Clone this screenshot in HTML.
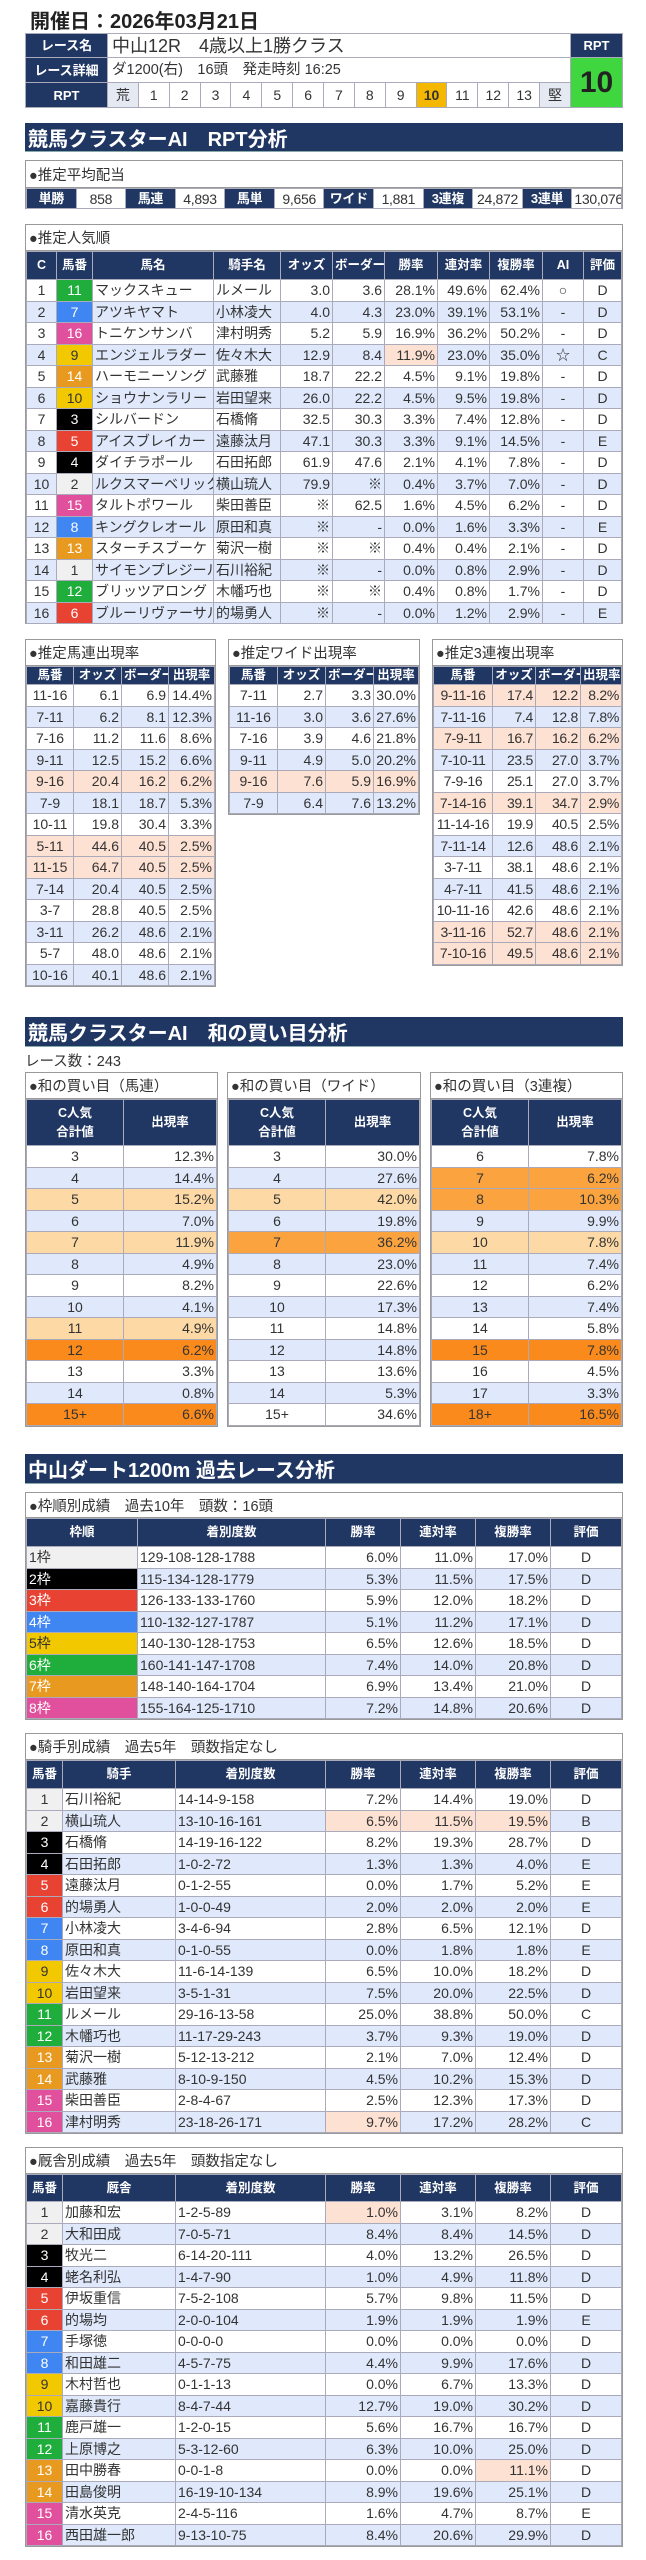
<!DOCTYPE html>
<html><head><meta charset="utf-8">
<style>
*{margin:0;padding:0;box-sizing:border-box}
body{width:646px;height:2560px;background:#fff;position:relative;font-family:"Liberation Sans","Noto Sans CJK JP",sans-serif;font-size:14px;color:#333;overflow:hidden}
.a{position:absolute}
table{border-collapse:collapse;table-layout:fixed;width:100%}
td,th{border:1px solid #aab;white-space:nowrap;overflow:hidden;padding:0 2px;line-height:1}
td{font-size:14px}
th{background:#213763;color:#fff;font-size:12.5px;font-weight:bold;text-align:center}
.nv{background:#213763;color:#fff;font-weight:bold;text-align:center;font-size:13px}
.sec{background:#213763;color:#fff;font-weight:bold;font-size:20px;padding-left:3px;display:flex;align-items:center;border-bottom:1px solid #8aa}
.box{border:1px solid #999;background:#fff}
.lbl{height:26px;display:flex;align-items:center;padding-left:3px;font-size:14.5px;border-bottom:1px solid #999}
.r{text-align:right}.c{text-align:center}.l{text-align:left}
tr.b td{background:#dfe9fb}
td.p,tr td.p{background:#fde1d3}
td.lo,tr td.lo{background:#fdd9a5}
td.o,tr td.o{background:#fba43f}
td.do,tr td.do{background:#fb8a1c}
.f1{background:#f0f0f0!important;color:#333}
.f2{background:#000!important;color:#fff}
.f3{background:#e84233!important;color:#fff}
.f4{background:#3f86f2!important;color:#fff}
.f5{background:#f2c800!important;color:#333}
.f6{background:#1fae3c!important;color:#fff}
.f7{background:#e8991f!important;color:#fff}
.f8{background:#e0509c!important;color:#fff}
.d21 tr td{height:21.5px}
.sm td{letter-spacing:-0.3px}
</style></head><body>

<div class="a" style="left:30px;top:5px;font-size:20px;font-weight:bold;color:#222">開催日：2026年03月21日</div>

<div class="a" style="left:25px;top:33px;width:598px;height:74px">
<table style="height:74px;border:1px solid #999">
<colgroup><col style="width:82px"><col span="15"><col style="width:52px"></colgroup>
<tr style="height:24px"><td class="nv">レース名</td><td colspan="15" style="font-size:18px;padding-left:4px">中山12R　4歳以上1勝クラス</td><td class="nv">RPT</td></tr>
<tr style="height:25px"><td class="nv">レース詳細</td><td colspan="15" style="font-size:14.5px;padding-left:4px">ダ1200(右)　16頭　発走時刻 16:25</td><td rowspan="2" style="background:#3fd63f;color:#222;font-size:30px;font-weight:bold;text-align:center">10</td></tr>
<tr style="height:25px"><td class="nv">RPT</td><td class="c" style="background:#e4e9f2">荒</td><td class="c">1</td><td class="c">2</td><td class="c">3</td><td class="c">4</td><td class="c">5</td><td class="c">6</td><td class="c">7</td><td class="c">8</td><td class="c">9</td><td class="c" style="background:#f5b800;font-weight:bold">10</td><td class="c">11</td><td class="c">12</td><td class="c">13</td><td class="c" style="background:#e4e9f2">堅</td></tr>
</table></div>

<div class="a sec" style="left:25px;top:123px;width:598px;height:29px">競馬クラスターAI　RPT分析</div>

<div class="a box" style="left:25px;top:160px;width:598px;height:49px">
<div class="lbl" style="height:27px">●推定平均配当</div>
<table style="height:21px" class="sm"><tr>
<td class="nv">単勝</td><td class="c">858</td><td class="nv">馬連</td><td class="c">4,893</td><td class="nv">馬単</td><td class="c">9,656</td><td class="nv">ワイド</td><td class="c">1,881</td><td class="nv">3連複</td><td class="c">24,872</td><td class="nv">3連単</td><td class="c">130,076</td></tr></table>
</div>

<div class="a box" style="left:25px;top:224px;width:598px;height:400px">
<div class="lbl">●推定人気順</div>
<table class="d21">
<colgroup><col style="width:30px"><col style="width:36px"><col style="width:121px"><col style="width:67px"><col style="width:52px"><col style="width:52px"><col style="width:53px"><col style="width:52px"><col style="width:53px"><col style="width:41px"><col></colgroup>
<tr style="height:28px"><th>C</th><th>馬番</th><th>馬名</th><th>騎手名</th><th>オッズ</th><th>ボーダー</th><th>勝率</th><th>連対率</th><th>複勝率</th><th>AI</th><th>評価</th></tr>
<tr><td class="c">1</td><td class="c f6">11</td><td>マックスキュー</td><td>ルメール</td><td class="r">3.0</td><td class="r">3.6</td><td class="r">28.1%</td><td class="r">49.6%</td><td class="r">62.4%</td><td class="c">○</td><td class="c">D</td></tr>
<tr class="b"><td class="c">2</td><td class="c f4">7</td><td>アツキヤマト</td><td>小林凌大</td><td class="r">4.0</td><td class="r">4.3</td><td class="r">23.0%</td><td class="r">39.1%</td><td class="r">53.1%</td><td class="c">-</td><td class="c">D</td></tr>
<tr><td class="c">3</td><td class="c f8">16</td><td>トニケンサンバ</td><td>津村明秀</td><td class="r">5.2</td><td class="r">5.9</td><td class="r">16.9%</td><td class="r">36.2%</td><td class="r">50.2%</td><td class="c">-</td><td class="c">D</td></tr>
<tr class="b"><td class="c">4</td><td class="c f5">9</td><td>エンジェルラダー</td><td>佐々木大</td><td class="r">12.9</td><td class="r">8.4</td><td class="r p">11.9%</td><td class="r">23.0%</td><td class="r">35.0%</td><td class="c">☆</td><td class="c">C</td></tr>
<tr><td class="c">5</td><td class="c f7">14</td><td>ハーモニーソング</td><td>武藤雅</td><td class="r">18.7</td><td class="r">22.2</td><td class="r">4.5%</td><td class="r">9.1%</td><td class="r">19.8%</td><td class="c">-</td><td class="c">D</td></tr>
<tr class="b"><td class="c">6</td><td class="c f5">10</td><td>ショウナンラリー</td><td>岩田望来</td><td class="r">26.0</td><td class="r">22.2</td><td class="r">4.5%</td><td class="r">9.5%</td><td class="r">19.8%</td><td class="c">-</td><td class="c">D</td></tr>
<tr><td class="c">7</td><td class="c f2">3</td><td>シルバードン</td><td>石橋脩</td><td class="r">32.5</td><td class="r">30.3</td><td class="r">3.3%</td><td class="r">7.4%</td><td class="r">12.8%</td><td class="c">-</td><td class="c">D</td></tr>
<tr class="b"><td class="c">8</td><td class="c f3">5</td><td>アイスブレイカー</td><td>遠藤汰月</td><td class="r">47.1</td><td class="r">30.3</td><td class="r">3.3%</td><td class="r">9.1%</td><td class="r">14.5%</td><td class="c">-</td><td class="c">E</td></tr>
<tr><td class="c">9</td><td class="c f2">4</td><td>ダイチラポール</td><td>石田拓郎</td><td class="r">61.9</td><td class="r">47.6</td><td class="r">2.1%</td><td class="r">4.1%</td><td class="r">7.8%</td><td class="c">-</td><td class="c">D</td></tr>
<tr class="b"><td class="c">10</td><td class="c f1">2</td><td>ルクスマーベリック</td><td>横山琉人</td><td class="r">79.9</td><td class="r">※</td><td class="r">0.4%</td><td class="r">3.7%</td><td class="r">7.0%</td><td class="c">-</td><td class="c">D</td></tr>
<tr><td class="c">11</td><td class="c f8">15</td><td>タルトポワール</td><td>柴田善臣</td><td class="r">※</td><td class="r">62.5</td><td class="r">1.6%</td><td class="r">4.5%</td><td class="r">6.2%</td><td class="c">-</td><td class="c">D</td></tr>
<tr class="b"><td class="c">12</td><td class="c f4">8</td><td>キングクレオール</td><td>原田和真</td><td class="r">※</td><td class="r">-</td><td class="r">0.0%</td><td class="r">1.6%</td><td class="r">3.3%</td><td class="c">-</td><td class="c">E</td></tr>
<tr><td class="c">13</td><td class="c f7">13</td><td>スターチスブーケ</td><td>菊沢一樹</td><td class="r">※</td><td class="r">※</td><td class="r">0.4%</td><td class="r">0.4%</td><td class="r">2.1%</td><td class="c">-</td><td class="c">D</td></tr>
<tr class="b"><td class="c">14</td><td class="c f1">1</td><td>サイモンプレジール</td><td>石川裕紀</td><td class="r">※</td><td class="r">-</td><td class="r">0.0%</td><td class="r">0.8%</td><td class="r">2.9%</td><td class="c">-</td><td class="c">D</td></tr>
<tr><td class="c">15</td><td class="c f6">12</td><td>ブリッツアロング</td><td>木幡巧也</td><td class="r">※</td><td class="r">※</td><td class="r">0.4%</td><td class="r">0.8%</td><td class="r">1.7%</td><td class="c">-</td><td class="c">D</td></tr>
<tr class="b"><td class="c">16</td><td class="c f3">6</td><td>ブルーリヴァーサル</td><td>的場勇人</td><td class="r">※</td><td class="r">-</td><td class="r">0.0%</td><td class="r">1.2%</td><td class="r">2.9%</td><td class="c">-</td><td class="c">E</td></tr>
</table></div>

<!-- small tables -->
<div class="a box" style="left:25px;top:639px;width:191px">
<div class="lbl">●推定馬連出現率</div>
<table class="d21"><colgroup><col style="width:47px"><col style="width:48px"><col style="width:47px"><col></colgroup>
<tr style="height:18px"><th>馬番</th><th>オッズ</th><th>ボーダー</th><th>出現率</th></tr>
<tr><td class="c">11-16</td><td class="r">6.1</td><td class="r">6.9</td><td class="r">14.4%</td></tr>
<tr class="b"><td class="c">7-11</td><td class="r">6.2</td><td class="r">8.1</td><td class="r">12.3%</td></tr>
<tr><td class="c">7-16</td><td class="r">11.2</td><td class="r">11.6</td><td class="r">8.6%</td></tr>
<tr class="b"><td class="c">9-11</td><td class="r">12.5</td><td class="r">15.2</td><td class="r">6.6%</td></tr>
<tr><td class="c p">9-16</td><td class="r p">20.4</td><td class="r p">16.2</td><td class="r p">6.2%</td></tr>
<tr class="b"><td class="c">7-9</td><td class="r">18.1</td><td class="r">18.7</td><td class="r">5.3%</td></tr>
<tr><td class="c">10-11</td><td class="r">19.8</td><td class="r">30.4</td><td class="r">3.3%</td></tr>
<tr><td class="c p">5-11</td><td class="r p">44.6</td><td class="r p">40.5</td><td class="r p">2.5%</td></tr>
<tr><td class="c p">11-15</td><td class="r p">64.7</td><td class="r p">40.5</td><td class="r p">2.5%</td></tr>
<tr class="b"><td class="c">7-14</td><td class="r">20.4</td><td class="r">40.5</td><td class="r">2.5%</td></tr>
<tr><td class="c">3-7</td><td class="r">28.8</td><td class="r">40.5</td><td class="r">2.5%</td></tr>
<tr class="b"><td class="c">3-11</td><td class="r">26.2</td><td class="r">48.6</td><td class="r">2.1%</td></tr>
<tr><td class="c">5-7</td><td class="r">48.0</td><td class="r">48.6</td><td class="r">2.1%</td></tr>
<tr class="b"><td class="c">10-16</td><td class="r">40.1</td><td class="r">48.6</td><td class="r">2.1%</td></tr>
</table></div>

<div class="a box" style="left:228px;top:639px;width:192px">
<div class="lbl">●推定ワイド出現率</div>
<table class="d21"><colgroup><col style="width:48px"><col style="width:48px"><col style="width:48px"><col></colgroup>
<tr style="height:18px"><th>馬番</th><th>オッズ</th><th>ボーダー</th><th>出現率</th></tr>
<tr><td class="c">7-11</td><td class="r">2.7</td><td class="r">3.3</td><td class="r">30.0%</td></tr>
<tr class="b"><td class="c">11-16</td><td class="r">3.0</td><td class="r">3.6</td><td class="r">27.6%</td></tr>
<tr><td class="c">7-16</td><td class="r">3.9</td><td class="r">4.6</td><td class="r">21.8%</td></tr>
<tr class="b"><td class="c">9-11</td><td class="r">4.9</td><td class="r">5.0</td><td class="r">20.2%</td></tr>
<tr><td class="c p">9-16</td><td class="r p">7.6</td><td class="r p">5.9</td><td class="r p">16.9%</td></tr>
<tr class="b"><td class="c">7-9</td><td class="r">6.4</td><td class="r">7.6</td><td class="r">13.2%</td></tr>
</table></div>

<div class="a box" style="left:432px;top:639px;width:191px">
<div class="lbl">●推定3連複出現率</div>
<table class="d21 sm"><colgroup><col style="width:59px"><col style="width:43px"><col style="width:45px"><col></colgroup>
<tr style="height:18px"><th>馬番</th><th>オッズ</th><th>ボーダー</th><th>出現率</th></tr>
<tr><td class="c p">9-11-16</td><td class="r p">17.4</td><td class="r p">12.2</td><td class="r p">8.2%</td></tr>
<tr class="b"><td class="c">7-11-16</td><td class="r">7.4</td><td class="r">12.8</td><td class="r">7.8%</td></tr>
<tr><td class="c p">7-9-11</td><td class="r p">16.7</td><td class="r p">16.2</td><td class="r p">6.2%</td></tr>
<tr class="b"><td class="c">7-10-11</td><td class="r">23.5</td><td class="r">27.0</td><td class="r">3.7%</td></tr>
<tr><td class="c">7-9-16</td><td class="r">25.1</td><td class="r">27.0</td><td class="r">3.7%</td></tr>
<tr><td class="c p">7-14-16</td><td class="r p">39.1</td><td class="r p">34.7</td><td class="r p">2.9%</td></tr>
<tr><td class="c">11-14-16</td><td class="r">19.9</td><td class="r">40.5</td><td class="r">2.5%</td></tr>
<tr class="b"><td class="c">7-11-14</td><td class="r">12.6</td><td class="r">48.6</td><td class="r">2.1%</td></tr>
<tr><td class="c">3-7-11</td><td class="r">38.1</td><td class="r">48.6</td><td class="r">2.1%</td></tr>
<tr class="b"><td class="c">4-7-11</td><td class="r">41.5</td><td class="r">48.6</td><td class="r">2.1%</td></tr>
<tr><td class="c">10-11-16</td><td class="r">42.6</td><td class="r">48.6</td><td class="r">2.1%</td></tr>
<tr><td class="c p">3-11-16</td><td class="r p">52.7</td><td class="r p">48.6</td><td class="r p">2.1%</td></tr>
<tr><td class="c p">7-10-16</td><td class="r p">49.5</td><td class="r p">48.6</td><td class="r p">2.1%</td></tr>
</table></div>

<div class="a sec" style="left:25px;top:1017px;width:598px;height:30px">競馬クラスターAI　和の買い目分析</div>
<div class="a" style="left:25px;top:1050px;font-size:14.5px">レース数：243</div>

<div class="a box" style="left:25px;top:1072px;width:193px">
<div class="lbl">●和の買い目（馬連）</div>
<table class="d21"><colgroup><col style="width:97px"><col></colgroup>
<tr style="height:46px"><th style="line-height:1.5">C人気<br>合計値</th><th>出現率</th></tr>
<tr><td class="c">3</td><td class="r">12.3%</td></tr>
<tr class="b"><td class="c">4</td><td class="r">14.4%</td></tr>
<tr><td class="c lo">5</td><td class="r lo">15.2%</td></tr>
<tr class="b"><td class="c">6</td><td class="r">7.0%</td></tr>
<tr><td class="c lo">7</td><td class="r lo">11.9%</td></tr>
<tr class="b"><td class="c">8</td><td class="r">4.9%</td></tr>
<tr><td class="c">9</td><td class="r">8.2%</td></tr>
<tr class="b"><td class="c">10</td><td class="r">4.1%</td></tr>
<tr><td class="c lo">11</td><td class="r lo">4.9%</td></tr>
<tr><td class="c do">12</td><td class="r do">6.2%</td></tr>
<tr><td class="c">13</td><td class="r">3.3%</td></tr>
<tr class="b"><td class="c">14</td><td class="r">0.8%</td></tr>
<tr><td class="c do">15+</td><td class="r do">6.6%</td></tr>
</table></div>

<div class="a box" style="left:227px;top:1072px;width:194px">
<div class="lbl">●和の買い目（ワイド）</div>
<table class="d21"><colgroup><col style="width:97px"><col></colgroup>
<tr style="height:46px"><th style="line-height:1.5">C人気<br>合計値</th><th>出現率</th></tr>
<tr><td class="c">3</td><td class="r">30.0%</td></tr>
<tr class="b"><td class="c">4</td><td class="r">27.6%</td></tr>
<tr><td class="c lo">5</td><td class="r lo">42.0%</td></tr>
<tr class="b"><td class="c">6</td><td class="r">19.8%</td></tr>
<tr><td class="c o">7</td><td class="r o">36.2%</td></tr>
<tr class="b"><td class="c">8</td><td class="r">23.0%</td></tr>
<tr><td class="c">9</td><td class="r">22.6%</td></tr>
<tr class="b"><td class="c">10</td><td class="r">17.3%</td></tr>
<tr><td class="c">11</td><td class="r">14.8%</td></tr>
<tr class="b"><td class="c">12</td><td class="r">14.8%</td></tr>
<tr><td class="c">13</td><td class="r">13.6%</td></tr>
<tr class="b"><td class="c">14</td><td class="r">5.3%</td></tr>
<tr><td class="c">15+</td><td class="r">34.6%</td></tr>
</table></div>

<div class="a box" style="left:430px;top:1072px;width:193px">
<div class="lbl">●和の買い目（3連複）</div>
<table class="d21"><colgroup><col style="width:97px"><col></colgroup>
<tr style="height:46px"><th style="line-height:1.5">C人気<br>合計値</th><th>出現率</th></tr>
<tr><td class="c">6</td><td class="r">7.8%</td></tr>
<tr><td class="c o">7</td><td class="r o">6.2%</td></tr>
<tr><td class="c o">8</td><td class="r o">10.3%</td></tr>
<tr class="b"><td class="c">9</td><td class="r">9.9%</td></tr>
<tr><td class="c lo">10</td><td class="r lo">7.8%</td></tr>
<tr class="b"><td class="c">11</td><td class="r">7.4%</td></tr>
<tr><td class="c">12</td><td class="r">6.2%</td></tr>
<tr class="b"><td class="c">13</td><td class="r">7.4%</td></tr>
<tr><td class="c">14</td><td class="r">5.8%</td></tr>
<tr><td class="c do">15</td><td class="r do">7.8%</td></tr>
<tr><td class="c">16</td><td class="r">4.5%</td></tr>
<tr class="b"><td class="c">17</td><td class="r">3.3%</td></tr>
<tr><td class="c do">18+</td><td class="r do">16.5%</td></tr>
</table></div>

<div class="a sec" style="left:25px;top:1454px;width:598px;height:30px">中山ダート1200m 過去レース分析</div>

<div class="a box" style="left:25px;top:1492px;width:598px">
<div class="lbl" style="height:25px">●枠順別成績　過去10年　頭数：16頭</div>
<table class="d21"><colgroup><col style="width:111px"><col style="width:188px"><col style="width:75px"><col style="width:75px"><col style="width:75px"><col></colgroup>
<tr style="height:28px"><th>枠順</th><th>着別度数</th><th>勝率</th><th>連対率</th><th>複勝率</th><th>評価</th></tr>
<tr><td class="f1">1枠</td><td>129-108-128-1788</td><td class="r">6.0%</td><td class="r">11.0%</td><td class="r">17.0%</td><td class="c">D</td></tr>
<tr class="b"><td class="f2">2枠</td><td>115-134-128-1779</td><td class="r">5.3%</td><td class="r">11.5%</td><td class="r">17.5%</td><td class="c">D</td></tr>
<tr><td class="f3">3枠</td><td>126-133-133-1760</td><td class="r">5.9%</td><td class="r">12.0%</td><td class="r">18.2%</td><td class="c">D</td></tr>
<tr class="b"><td class="f4">4枠</td><td>110-132-127-1787</td><td class="r">5.1%</td><td class="r">11.2%</td><td class="r">17.1%</td><td class="c">D</td></tr>
<tr><td class="f5">5枠</td><td>140-130-128-1753</td><td class="r">6.5%</td><td class="r">12.6%</td><td class="r">18.5%</td><td class="c">D</td></tr>
<tr class="b"><td class="f6">6枠</td><td>160-141-147-1708</td><td class="r">7.4%</td><td class="r">14.0%</td><td class="r">20.8%</td><td class="c">D</td></tr>
<tr><td class="f7">7枠</td><td>148-140-164-1704</td><td class="r">6.9%</td><td class="r">13.4%</td><td class="r">21.0%</td><td class="c">D</td></tr>
<tr class="b"><td class="f8">8枠</td><td>155-164-125-1710</td><td class="r">7.2%</td><td class="r">14.8%</td><td class="r">20.6%</td><td class="c">D</td></tr>
</table></div>

<div class="a box" style="left:25px;top:1733px;width:598px">
<div class="lbl">●騎手別成績　過去5年　頭数指定なし</div>
<table class="d21"><colgroup><col style="width:36px"><col style="width:113px"><col style="width:150px"><col style="width:75px"><col style="width:75px"><col style="width:75px"><col></colgroup>
<tr style="height:28px"><th>馬番</th><th>騎手</th><th>着別度数</th><th>勝率</th><th>連対率</th><th>複勝率</th><th>評価</th></tr>
<tr><td class="c f1">1</td><td>石川裕紀</td><td>14-14-9-158</td><td class="r">7.2%</td><td class="r">14.4%</td><td class="r">19.0%</td><td class="c">D</td></tr>
<tr class="b"><td class="c f1">2</td><td>横山琉人</td><td>13-10-16-161</td><td class="r p">6.5%</td><td class="r p">11.5%</td><td class="r p">19.5%</td><td class="c">B</td></tr>
<tr><td class="c f2">3</td><td>石橋脩</td><td>14-19-16-122</td><td class="r">8.2%</td><td class="r">19.3%</td><td class="r">28.7%</td><td class="c">D</td></tr>
<tr class="b"><td class="c f2">4</td><td>石田拓郎</td><td>1-0-2-72</td><td class="r">1.3%</td><td class="r">1.3%</td><td class="r">4.0%</td><td class="c">E</td></tr>
<tr><td class="c f3">5</td><td>遠藤汰月</td><td>0-1-2-55</td><td class="r">0.0%</td><td class="r">1.7%</td><td class="r">5.2%</td><td class="c">E</td></tr>
<tr class="b"><td class="c f3">6</td><td>的場勇人</td><td>1-0-0-49</td><td class="r">2.0%</td><td class="r">2.0%</td><td class="r">2.0%</td><td class="c">E</td></tr>
<tr><td class="c f4">7</td><td>小林凌大</td><td>3-4-6-94</td><td class="r">2.8%</td><td class="r">6.5%</td><td class="r">12.1%</td><td class="c">D</td></tr>
<tr class="b"><td class="c f4">8</td><td>原田和真</td><td>0-1-0-55</td><td class="r">0.0%</td><td class="r">1.8%</td><td class="r">1.8%</td><td class="c">E</td></tr>
<tr><td class="c f5">9</td><td>佐々木大</td><td>11-6-14-139</td><td class="r">6.5%</td><td class="r">10.0%</td><td class="r">18.2%</td><td class="c">D</td></tr>
<tr class="b"><td class="c f5">10</td><td>岩田望来</td><td>3-5-1-31</td><td class="r">7.5%</td><td class="r">20.0%</td><td class="r">22.5%</td><td class="c">D</td></tr>
<tr><td class="c f6">11</td><td>ルメール</td><td>29-16-13-58</td><td class="r">25.0%</td><td class="r">38.8%</td><td class="r">50.0%</td><td class="c">C</td></tr>
<tr class="b"><td class="c f6">12</td><td>木幡巧也</td><td>11-17-29-243</td><td class="r">3.7%</td><td class="r">9.3%</td><td class="r">19.0%</td><td class="c">D</td></tr>
<tr><td class="c f7">13</td><td>菊沢一樹</td><td>5-12-13-212</td><td class="r">2.1%</td><td class="r">7.0%</td><td class="r">12.4%</td><td class="c">D</td></tr>
<tr class="b"><td class="c f7">14</td><td>武藤雅</td><td>8-10-9-150</td><td class="r">4.5%</td><td class="r">10.2%</td><td class="r">15.3%</td><td class="c">D</td></tr>
<tr><td class="c f8">15</td><td>柴田善臣</td><td>2-8-4-67</td><td class="r">2.5%</td><td class="r">12.3%</td><td class="r">17.3%</td><td class="c">D</td></tr>
<tr class="b"><td class="c f8">16</td><td>津村明秀</td><td>23-18-26-171</td><td class="r p">9.7%</td><td class="r">17.2%</td><td class="r">28.2%</td><td class="c">C</td></tr>
</table></div>

<div class="a box" style="left:25px;top:2147px;width:598px">
<div class="lbl">●厩舎別成績　過去5年　頭数指定なし</div>
<table class="d21"><colgroup><col style="width:36px"><col style="width:113px"><col style="width:150px"><col style="width:75px"><col style="width:75px"><col style="width:75px"><col></colgroup>
<tr style="height:27px"><th>馬番</th><th>厩舎</th><th>着別度数</th><th>勝率</th><th>連対率</th><th>複勝率</th><th>評価</th></tr>
<tr><td class="c f1">1</td><td>加藤和宏</td><td>1-2-5-89</td><td class="r p">1.0%</td><td class="r">3.1%</td><td class="r">8.2%</td><td class="c">D</td></tr>
<tr class="b"><td class="c f1">2</td><td>大和田成</td><td>7-0-5-71</td><td class="r">8.4%</td><td class="r">8.4%</td><td class="r">14.5%</td><td class="c">D</td></tr>
<tr><td class="c f2">3</td><td>牧光二</td><td>6-14-20-111</td><td class="r">4.0%</td><td class="r">13.2%</td><td class="r">26.5%</td><td class="c">D</td></tr>
<tr class="b"><td class="c f2">4</td><td>蛯名利弘</td><td>1-4-7-90</td><td class="r">1.0%</td><td class="r">4.9%</td><td class="r">11.8%</td><td class="c">D</td></tr>
<tr><td class="c f3">5</td><td>伊坂重信</td><td>7-5-2-108</td><td class="r">5.7%</td><td class="r">9.8%</td><td class="r">11.5%</td><td class="c">D</td></tr>
<tr class="b"><td class="c f3">6</td><td>的場均</td><td>2-0-0-104</td><td class="r">1.9%</td><td class="r">1.9%</td><td class="r">1.9%</td><td class="c">E</td></tr>
<tr><td class="c f4">7</td><td>手塚徳</td><td>0-0-0-0</td><td class="r">0.0%</td><td class="r">0.0%</td><td class="r">0.0%</td><td class="c">D</td></tr>
<tr class="b"><td class="c f4">8</td><td>和田雄二</td><td>4-5-7-75</td><td class="r">4.4%</td><td class="r">9.9%</td><td class="r">17.6%</td><td class="c">D</td></tr>
<tr><td class="c f5">9</td><td>木村哲也</td><td>0-1-1-13</td><td class="r">0.0%</td><td class="r">6.7%</td><td class="r">13.3%</td><td class="c">D</td></tr>
<tr class="b"><td class="c f5">10</td><td>嘉藤貴行</td><td>8-4-7-44</td><td class="r">12.7%</td><td class="r">19.0%</td><td class="r">30.2%</td><td class="c">D</td></tr>
<tr><td class="c f6">11</td><td>鹿戸雄一</td><td>1-2-0-15</td><td class="r">5.6%</td><td class="r">16.7%</td><td class="r">16.7%</td><td class="c">D</td></tr>
<tr class="b"><td class="c f6">12</td><td>上原博之</td><td>5-3-12-60</td><td class="r">6.3%</td><td class="r">10.0%</td><td class="r">25.0%</td><td class="c">D</td></tr>
<tr><td class="c f7">13</td><td>田中勝春</td><td>0-0-1-8</td><td class="r">0.0%</td><td class="r">0.0%</td><td class="r p">11.1%</td><td class="c">D</td></tr>
<tr class="b"><td class="c f7">14</td><td>田島俊明</td><td>16-19-10-134</td><td class="r">8.9%</td><td class="r">19.6%</td><td class="r">25.1%</td><td class="c">D</td></tr>
<tr><td class="c f8">15</td><td>清水英克</td><td>2-4-5-116</td><td class="r">1.6%</td><td class="r">4.7%</td><td class="r">8.7%</td><td class="c">E</td></tr>
<tr class="b"><td class="c f8">16</td><td>西田雄一郎</td><td>9-13-10-75</td><td class="r">8.4%</td><td class="r">20.6%</td><td class="r">29.9%</td><td class="c">D</td></tr>
</table></div>

</body></html>
